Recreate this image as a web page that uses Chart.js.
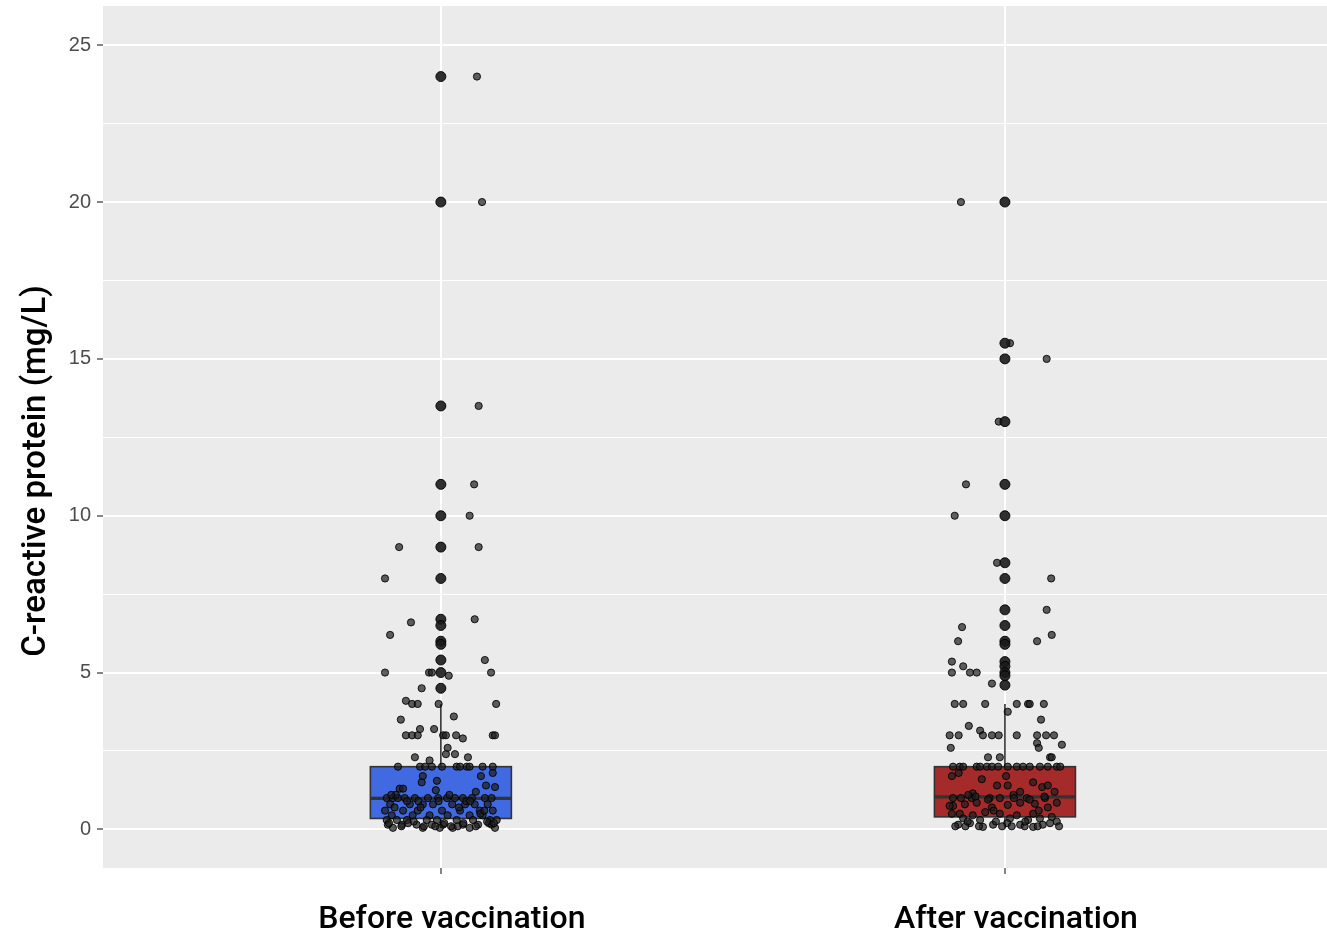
<!DOCTYPE html>
<html>
<head>
<meta charset="utf-8">
<script src="https://cdn.jsdelivr.net/npm/chart.js@4"></script>
<style>
html,body{margin:0;padding:0;background:#fff;}
canvas{display:block;}
</style>
</head>
<body>
<canvas id="c" width="1327" height="940"></canvas>
<script>
// ---- Data ----
const categories = ["Before vaccination", "After vaccination"];
const yTickValues = [0, 2.5, 5, 7.5, 10, 12.5, 15, 17.5, 20, 22.5, 25];
const yTitle = "C-reactive protein (mg/L)";

// box statistics per category
const boxQ1     = [0.35, 0.40];
const boxMedian = [0.99, 1.04];
const boxQ3     = [2.0, 2.0];
const whiskerLow  = [0.05, 0.05];
const whiskerHigh = [4.0, 4.0];
const boxColors = ["#4169E1", "#A52A2A"];

// boxplot outliers (drawn at category centre)
const beforeOutliers = [24, 20, 13.5, 11, 10, 9, 8, 6.7, 6.5, 6.0, 5.9, 5.4, 5.0, 4.5];
const afterOutliers  = [20, 15.5, 15, 13, 11, 10, 8.5, 8, 7, 6.5, 6, 5.9, 5.35, 5.2, 5.0, 4.9, 4.6];

// jittered observations: horizontal offset (category units) and value
const beforeJitterX = [
  0.064, 0.073, 0.067, 0.059, 0.051, 0.067, -0.074, -0.099, 0.060, -0.090, -0.053, 0.078,
  -0.099, -0.021, -0.016, 0.014, 0.089, -0.034, -0.062, -0.051, -0.041, -0.004, 0.098,
  -0.071, 0.023, -0.062, -0.051, -0.041, -0.037, -0.012, 0.004, 0.009, 0.027, 0.039, 0.092, 0.096,
  0.012, 0.009, 0.025, -0.046, -0.020, 0.048,
  -0.076, -0.037, -0.028, -0.016, 0.002, 0.028, 0.034, 0.046, 0.051, 0.074, 0.092,
  -0.032, -0.034, -0.007, 0.071, 0.092, 0.080, 0.096, -0.073, -0.067, -0.009, 0.062,
  -0.096, -0.085, -0.076, -0.064, -0.046, -0.023, -0.005, 0.011, 0.025, 0.039, 0.055, 0.078, 0.090,
  -0.090, -0.055, -0.032, -0.014, 0.020, 0.043, 0.060, 0.083,
  -0.099, -0.067, -0.041, 0.002, 0.034, 0.069, 0.092,
  -0.087, -0.050, -0.020, 0.012, 0.051, 0.074,
  -0.096, -0.078, -0.060, -0.025, -0.007, 0.028, 0.057, 0.087, 0.099,
  -0.094, -0.069, -0.043, -0.016, 0.004, 0.039, 0.066, 0.090,
  -0.085, -0.032, -0.002, 0.021, 0.051, 0.096,
  -0.080, -0.040, 0.015, 0.045, 0.070, -0.058, -0.010, 0.030, 0.085, -0.088,
  -0.092, -0.070, -0.048, -0.030, 0.006, 0.018, 0.040, 0.062, 0.082, 0.094,
  -0.082, -0.060, -0.036, -0.004, 0.032, 0.052, 0.077
];
const beforeJitterY = [
  24.0, 20.0, 13.5, 11.0, 10.0, 9.0, 9.0, 8.0, 6.7, 6.2, 6.6, 5.4,
  5.0, 5.0, 5.0, 4.9, 5.0, 4.5, 4.1, 4.0, 4.0, 4.0, 4.0,
  3.5, 3.6, 3.0, 3.0, 3.0, 3.2, 3.2, 3.0, 3.0, 3.0, 2.9, 3.0, 3.0,
  2.6, 2.4, 2.4, 2.3, 2.2, 2.3,
  2.0, 2.0, 2.0, 2.0, 2.0, 2.0, 2.0, 2.0, 2.0, 2.0, 2.0,
  1.7, 1.5, 1.55, 1.7, 1.8, 1.4, 1.35, 1.3, 1.3, 1.25, 1.2,
  1.0, 1.0, 1.0, 1.0, 1.0, 1.0, 1.0, 1.0, 1.0, 1.0, 1.0, 1.0, 1.0,
  0.8, 0.8, 0.8, 0.8, 0.8, 0.8, 0.8, 0.8,
  0.6, 0.6, 0.6, 0.6, 0.6, 0.6, 0.6,
  0.45, 0.45, 0.45, 0.45, 0.45, 0.45,
  0.3, 0.3, 0.3, 0.3, 0.3, 0.3, 0.3, 0.3, 0.3,
  0.15, 0.15, 0.15, 0.15, 0.15, 0.15, 0.15, 0.15,
  0.05, 0.05, 0.05, 0.05, 0.05, 0.05,
  1.1, 0.9, 1.1, 0.9, 0.5, 0.2, 0.1, 0.1, 0.2, 1.1,
  0.2, 0.1, 0.25, 0.1, 0.2, 0.1, 0.2, 0.1, 0.25, 0.2,
  0.7, 0.9, 0.7, 0.9, 0.7, 0.9, 0.6
];

const afterJitterX = [
  -0.078, 0.009, 0.074, -0.011, -0.069, -0.089, -0.014, 0.082, 0.074, -0.076, 0.083, 0.057, -0.083,
  -0.094, -0.094, -0.074, -0.062, -0.050, -0.023,
  -0.089, -0.074, -0.035, 0.021, 0.041, 0.044, 0.069, 0.005, 0.064,
  -0.064, -0.044, -0.039, -0.023, -0.011, 0.021, 0.057, 0.073, 0.087, -0.098, -0.082,
  0.057, 0.060, 0.101, -0.096, -0.030, -0.009, 0.080, 0.083,
  -0.092, -0.080, -0.074, -0.050, -0.044, -0.032, -0.023, -0.012, 0.005, 0.021, 0.032, 0.044, 0.062, 0.076, 0.092, 0.098,
  -0.094, -0.082, -0.041, 0.002, -0.014, 0.005, 0.050, 0.066, 0.076, -0.057, 0.027,
  -0.092, -0.059, -0.027, -0.009, 0.039, 0.071,
  -0.092, -0.071, -0.050, -0.023, 0.005, 0.027, 0.053, 0.076, 0.092,
  -0.080, -0.057, -0.035, -0.009, 0.021, 0.050, 0.083,
  -0.074, -0.044, 0.009, 0.041, 0.062,
  -0.083, -0.062, -0.039, -0.021, 0.004, 0.027, 0.050, 0.067, 0.092,
  -0.094, -0.098, -0.065, -0.030, 0.015, 0.060, 0.088, -0.005, 0.035, -0.070,
  -0.088, -0.066, -0.046, -0.016, 0.012, 0.036, 0.058, 0.080, 0.096,
  -0.078, -0.052, -0.020, 0.016, 0.044, 0.070
];
const afterJitterY = [
  20.0, 15.5, 15.0, 13.0, 11.0, 10.0, 8.5, 8.0, 7.0, 6.45, 6.2, 6.0, 6.0,
  5.35, 5.0, 5.2, 5.0, 5.0, 4.65,
  4.0, 4.0, 4.0, 4.0, 4.0, 4.0, 4.0, 3.75, 3.5,
  3.3, 3.15, 3.0, 3.0, 3.0, 3.0, 3.0, 3.0, 3.0, 3.0, 3.0,
  2.75, 2.6, 2.7, 2.6, 2.3, 2.3, 2.3, 2.3,
  2.0, 2.0, 2.0, 2.0, 2.0, 2.0, 2.0, 2.0, 2.0, 2.0, 2.0, 2.0, 2.0, 2.0, 2.0, 2.0,
  1.7, 1.8, 1.6, 1.7, 1.4, 1.4, 1.5, 1.35, 1.4, 1.15, 1.2,
  1.0, 1.0, 1.0, 1.0, 1.0, 1.0,
  0.75, 0.8, 0.85, 0.7, 0.78, 0.85, 0.82, 0.7, 0.85,
  0.5, 0.45, 0.55, 0.5, 0.45, 0.5, 0.4,
  0.35, 0.3, 0.35, 0.3, 0.35,
  0.15, 0.2, 0.08, 0.15, 0.2, 0.15, 0.08, 0.15, 0.25,
  0.5, 0.75, 1.1, 0.95, 1.1, 0.6, 1.2, 0.1, 0.1, 0.1,
  0.1, 0.25, 0.1, 0.25, 0.1, 0.25, 0.1, 0.2, 0.1,
  1.0, 1.05, 0.6, 1.0, 0.95, 1.05
];

// ---- Build datasets ----
function jitterPoints(center, xs, ys) {
  return xs.map((dx, i) => ({ x: center + dx, y: ys[i] }));
}
function outlierPoints(center, ys) {
  return ys.map(v => ({ x: center, y: v }));
}
function noPad(s) { s.paddingTop = 0; s.paddingBottom = 0; s.paddingLeft = 0; s.paddingRight = 0; }

const boxPlugin = {
  id: 'boxes',
  beforeDraw(chart) {
    const { ctx, chartArea: a } = chart;
    ctx.save();
    ctx.fillStyle = '#EBEBEB';
    ctx.fillRect(a.left, a.top, a.right - a.left, a.bottom - a.top);
    ctx.restore();
  },
  beforeDatasetsDraw(chart) {
    const { ctx, scales: { x, y } } = chart;
    const half = 0.125;
    ctx.save();
    categories.forEach((c, i) => {
      const cx = x.getPixelForValue(i);
      const l = x.getPixelForValue(i - half), r = x.getPixelForValue(i + half);
      const q1 = y.getPixelForValue(boxQ1[i]), q3 = y.getPixelForValue(boxQ3[i]);
      const md = y.getPixelForValue(boxMedian[i]);
      const lo = y.getPixelForValue(whiskerLow[i]), hi = y.getPixelForValue(whiskerHigh[i]);
      ctx.strokeStyle = '#333333';
      ctx.lineWidth = 1.6;
      ctx.beginPath();
      ctx.moveTo(cx, q3); ctx.lineTo(cx, hi);
      ctx.moveTo(cx, q1); ctx.lineTo(cx, lo);
      ctx.stroke();
      ctx.fillStyle = boxColors[i];
      ctx.fillRect(l, q3, r - l, q1 - q3);
      ctx.strokeRect(l, q3, r - l, q1 - q3);
      ctx.lineWidth = 3.2;
      ctx.beginPath();
      ctx.moveTo(l, md); ctx.lineTo(r, md);
      ctx.stroke();
    });
    ctx.restore();
  },
  afterDraw(chart) {
    const { ctx } = chart;
    ctx.save();
    ctx.translate(37, 471);
    ctx.rotate(-Math.PI / 2);
    ctx.fillStyle = '#000';
    ctx.font = '500 33px Roboto';
    ctx.textAlign = 'center';
    ctx.textBaseline = 'middle';
    ctx.fillText(yTitle, 0, 0);
    ctx.restore();
  }
};

new Chart(document.getElementById('c'), {
  type: 'scatter',
  data: {
    datasets: [
      { label: 'out-before', data: outlierPoints(0, beforeOutliers), pointRadius: 5,
        backgroundColor: 'rgba(25,25,25,0.9)', borderColor: 'rgba(0,0,0,0.9)', borderWidth: 1 },
      { label: 'out-after', data: outlierPoints(1, afterOutliers), pointRadius: 5,
        backgroundColor: 'rgba(25,25,25,0.9)', borderColor: 'rgba(0,0,0,0.9)', borderWidth: 1 },
      { label: 'before', data: jitterPoints(0, beforeJitterX, beforeJitterY), pointRadius: 3.6,
        backgroundColor: 'rgba(30,30,30,0.7)', borderColor: 'rgba(0,0,0,0.85)', borderWidth: 1 },
      { label: 'after', data: jitterPoints(1, afterJitterX, afterJitterY), pointRadius: 3.6,
        backgroundColor: 'rgba(30,30,30,0.7)', borderColor: 'rgba(0,0,0,0.85)', borderWidth: 1 }
    ]
  },
  options: {
    responsive: false,
    animation: false,
    devicePixelRatio: 1,
    layout: { autoPadding: false, padding: { top: 6, right: 0, left: 0, bottom: 0 } },
    plugins: { legend: { display: false }, tooltip: { enabled: false } },
    scales: {
      x: {
        type: 'linear',
        min: -0.599, max: 1.571,
        afterBuildTicks(s) { s.ticks = categories.map((c, i) => ({ value: i })); },
        afterFit(s) { s.height = 72; noPad(s); },
        border: { display: false },
        grid: { color: '#FFFFFF', lineWidth: 2, tickColor: '#333333', tickLength: 6, tickWidth: 1.2 },
        ticks: {
          callback: (v) => categories[v] ?? '',
          color: '#000000',
          font: { family: 'Roboto', size: 32, weight: '500' },
          padding: 27,
          labelOffset: 11,
          maxRotation: 0, autoSkip: false
        }
      },
      y: {
        type: 'linear',
        min: -1.23, max: 26.25,
        afterBuildTicks(s) { s.ticks = yTickValues.map(v => ({ value: v })); },
        afterFit(s) { s.width = 103; noPad(s); },
        border: { display: false },
        grid: {
          color: '#FFFFFF',
          lineWidth: (c) => (c.tick && c.tick.value % 5 === 0) ? 2 : 1.1,
          tickColor: (c) => (c.tick && c.tick.value % 5 === 0) ? '#333333' : 'rgba(0,0,0,0)',
          tickLength: 6, tickWidth: 1.2
        },
        ticks: {
          callback: (v) => (v % 5 === 0) ? String(v) : '',
          color: '#4D4D4D',
          font: { family: 'Liberation Sans', size: 20 },
          padding: 6,
          autoSkip: false
        }
      }
    }
  },
  plugins: [boxPlugin]
});
</script>
</body>
</html>
